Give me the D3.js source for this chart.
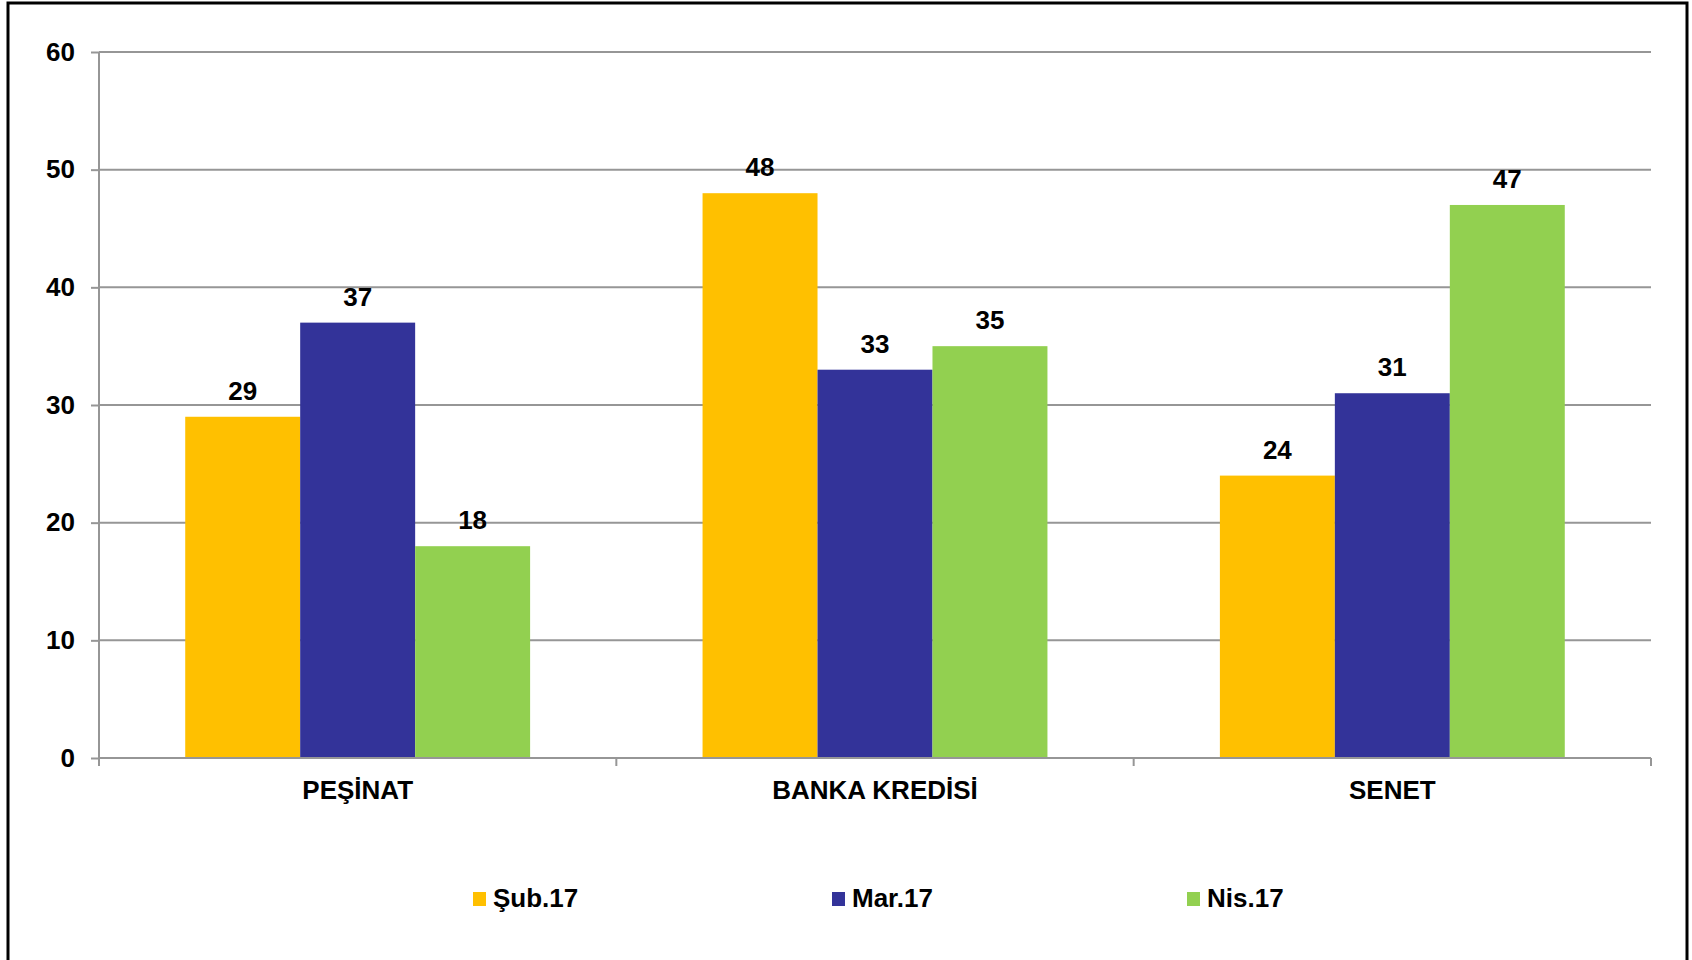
<!DOCTYPE html>
<html>
<head>
  <meta charset="UTF-8">
  <title>Ödeme şekli</title>
  <script src="https://d3js.org/d3.v7.min.js"></script>
  <style>
    body { margin: 0; background: #fff; }
    svg { display: block; font-family: "Liberation Sans", Arial, sans-serif; font-weight: bold; }
    .axis path, .axis line { stroke: #969696; stroke-width: 2px; }
    .axis text { font-size: 26px; fill: #000; font-weight: bold; }
    .grid line { stroke: #969696; stroke-width: 2px; }
    .label { font-size: 26px; fill: #000; text-anchor: middle; }
    .legend text { font-size: 26px; fill: #000; }
  </style>
</head>
<body>
  <svg id="chart" width="1692" height="960"></svg>

  <script>
    // veriler
    var categories = ["PEŞİNAT", "BANKA KREDİSİ", "SENET"];
    var seriesNames = ["Şub.17", "Mar.17", "Nis.17"];
    var sub17 = [29, 48, 24];
    var mar17 = [37, 33, 31];
    var nis17 = [18, 35, 47];
    var yTicks = [0, 10, 20, 30, 40, 50, 60];
    var colors = ["#FFC000", "#333399", "#92D050"];

    var values = [sub17, mar17, nis17];

    var plotLeft = 99, plotRight = 1651, plotTop = 52, plotBottom = 758;

    var svg = d3.select("#chart");

    // dış çerçeve
    svg.append("rect")
       .attr("x", 8).attr("y", 3)
       .attr("width", 1679).attr("height", 1000)
       .attr("fill", "none")
       .attr("stroke", "#000")
       .attr("stroke-width", 3);

    var x0 = d3.scaleBand()
               .domain(categories)
               .range([plotLeft, plotRight])
               .padding(0);

    var x1 = d3.scaleBand()
               .domain(seriesNames)
               .range([0, x0.bandwidth()])
               .paddingInner(0)
               .paddingOuter(0.75);

    var y = d3.scaleLinear()
              .domain([0, 60])
              .range([plotBottom, plotTop]);

    // yatay kılavuz çizgileri
    svg.append("g")
       .attr("class", "grid")
       .selectAll("line")
       .data(yTicks.filter(function(d) { return d > 0; }))
       .enter()
       .append("line")
       .attr("x1", plotLeft).attr("x2", plotRight)
       .attr("y1", function(d) { return y(d); })
       .attr("y2", function(d) { return y(d); });

    // çubuklar
    var groups = svg.append("g")
                    .selectAll("g")
                    .data(seriesNames)
                    .enter()
                    .append("g")
                    .attr("fill", function(d, i) { return colors[i]; });

    function rows(s, i) {
      return values[i].map(function(v, j) { return { s: s, c: categories[j], v: v }; });
    }

    groups.selectAll("rect")
          .data(rows)
          .enter()
          .append("rect")
          .attr("x", function(d) { return x0(d.c) + x1(d.s); })
          .attr("y", function(d) { return y(d.v); })
          .attr("width", x1.bandwidth())
          .attr("height", function(d) { return plotBottom - y(d.v); });

    // değer etiketleri
    groups.selectAll("text")
          .data(rows)
          .enter()
          .append("text")
          .attr("class", "label")
          .attr("x", function(d) { return x0(d.c) + x1(d.s) + x1.bandwidth() / 2; })
          .attr("y", function(d) { return y(d.v) - 17; })
          .text(function(d) { return d.v; });

    // y ekseni
    var yAxis = svg.append("g")
                   .attr("class", "axis")
                   .attr("transform", "translate(" + plotLeft + ",0)")
                   .call(d3.axisLeft(y).tickValues(yTicks).tickSize(8).tickPadding(16));
    yAxis.select(".domain").attr("d", "M0," + plotTop + "V" + plotBottom);

    // x ekseni
    var xAxis = svg.append("g")
                   .attr("class", "axis")
                   .attr("transform", "translate(0," + plotBottom + ")")
                   .call(d3.axisBottom(x0).tickSize(0).tickPadding(23));
    xAxis.select(".domain").attr("d", "M" + plotLeft + ",0H" + plotRight);
    xAxis.selectAll(".sep")
         .data(d3.range(categories.length + 1))
         .enter()
         .append("line")
         .attr("x1", function(i) { return plotLeft + i * x0.step(); })
         .attr("x2", function(i) { return plotLeft + i * x0.step(); })
         .attr("y1", 0).attr("y2", 8);

    // gösterge
    var legendX = [473, 832, 1187];
    var legend = svg.append("g")
                    .attr("class", "legend")
                    .selectAll("g")
                    .data(seriesNames)
                    .enter()
                    .append("g")
                    .attr("transform", function(d, i) { return "translate(" + legendX[i] + ",892)"; });
    legend.append("rect")
          .attr("width", 13).attr("height", 14)
          .attr("fill", function(d, i) { return colors[i]; });
    legend.append("text")
          .attr("x", 20).attr("y", 15)
          .text(function(d) { return d; });
  </script>
</body>
</html>
